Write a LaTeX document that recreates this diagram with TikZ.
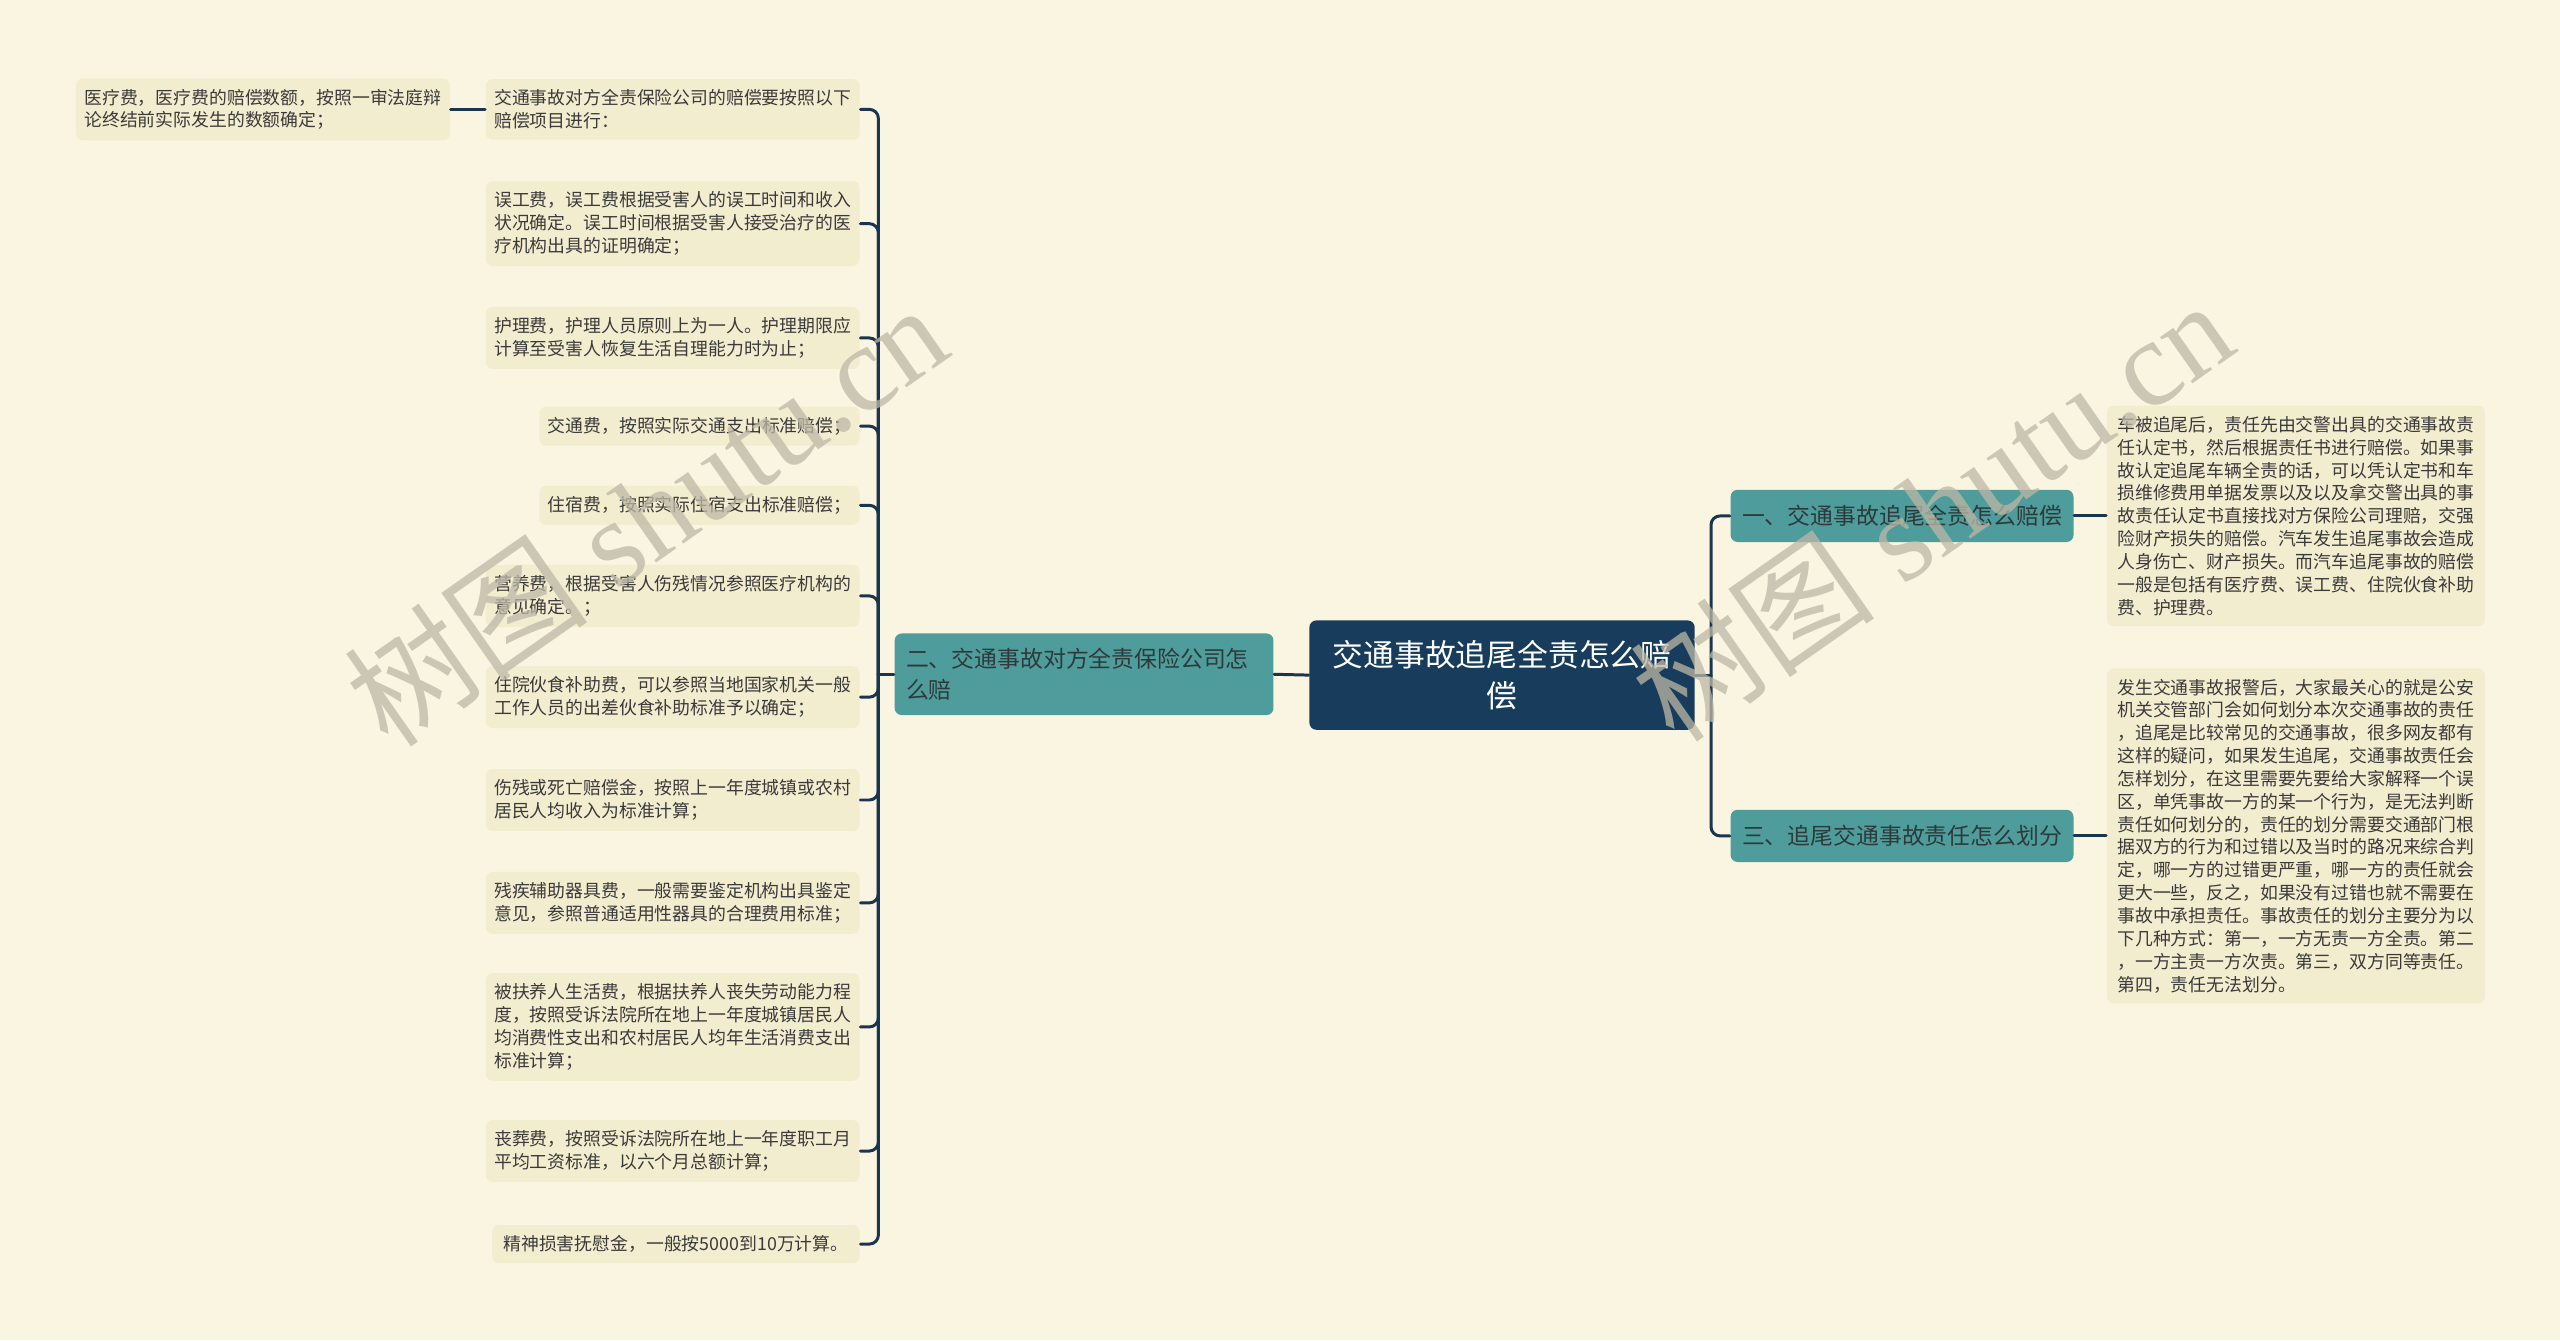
\documentclass[tikz,border=0pt]{standalone}
\usepackage{fontspec}
\newfontfamily\cjk{Noto Sans CJK SC}
\newfontfamily\wmserif{Liberation Serif}
\usetikzlibrary{calc}

\definecolor{paper}{HTML}{FAF5E0}
\definecolor{leaffill}{HTML}{F3EDD0}
\definecolor{leaftext}{HTML}{3A3A3A}
\definecolor{branchteal}{HTML}{4F9C9C}
\definecolor{branchtext}{HTML}{2E3A3A}
\definecolor{rootnavy}{HTML}{173C5C}
\definecolor{linknavy}{HTML}{1A3550}
\definecolor{wmgray}{HTML}{BDB8A6}

\begin{document}
\begin{tikzpicture}[x=0.016327cm,y=-0.016327cm,line cap=round,line join=round]
  \tikzset{
    rootbox/.style={fill=rootnavy,text=white,rounded corners=0.07cm,align=center,
      minimum width=3.853cm,minimum height=1.094cm,inner sep=0pt,
      font=\cjk\fontsize{8.76}{11.6}\selectfont},
    branchbox/.style={fill=branchteal,text=branchtext,rounded corners=0.07cm,
      minimum height=0.522cm,inner ysep=0pt,inner xsep=0.114cm,
      font=\cjk\fontsize{6.5}{8.8}\selectfont},
    leafbox/.style={fill=leaffill,text=leaftext,rounded corners=0.07cm,align=left,
      inner xsep=2.4pt,inner ysep=3pt,font=\cjk\fontsize{5.08}{6.5}\selectfont},
    link/.style={draw=linknavy,line width=0.85pt,rounded corners=0.09cm},
    watermark/.style={text=wmgray,opacity=0.75,font=\wmserif\fontsize{35}{35}\selectfont}
  }

  \fill[paper] (0,0) rectangle (1568,821);
  \useasboundingbox (0,0) rectangle (1568,821);

  % centre: the question itself
  \node[rootbox] (root) at (920,413.5) {交通事故追尾全责怎么赔\\偿};

  % right: two answers, each with one long text
  \node[branchbox,minimum width=3.429cm] (b1) at (1165,316) {一、交通事故追尾全责怎么赔偿};
  \node[branchbox,minimum width=3.429cm] (b3) at (1165,512) {三、追尾交通事故责任怎么划分};
  \node[leafbox,anchor=west,inner xsep=3pt] (r1) at (1290,316) {车被追尾后，责任先由交警出具的交通事故责\\任认定书，然后根据责任书进行赔偿。如果事\\故认定追尾车辆全责的话，可以凭认定书和车\\损维修费用单据发票以及以及拿交警出具的事\\故责任认定书直接找对方保险公司理赔，交强\\险财产损失的赔偿。汽车发生追尾事故会造成\\人身伤亡、财产损失。而汽车追尾事故的赔偿\\一般是包括有医疗费、误工费、住院伙食补助\\费、护理费。};
  \node[leafbox,anchor=west,inner xsep=3pt] (r3) at (1290,512) {发生交通事故报警后，大家最关心的就是公安\\机关交管部门会如何划分本次交通事故的责任\\，追尾是比较常见的交通事故，很多网友都有\\这样的疑问，如果发生追尾，交通事故责任会\\怎样划分，在这里需要先要给大家解释一个误\\区，单凭事故一方的某一个行为，是无法判断\\责任如何划分的，责任的划分需要交通部门根\\据双方的行为和过错以及当时的路况来综合判\\定，哪一方的过错更严重，哪一方的责任就会\\更大一些，反之，如果没有过错也就不需要在\\事故中承担责任。事故责任的划分主要分为以\\下几种方式：第一，一方无责一方全责。第二\\，一方主责一方次责。第三，双方同等责任。\\第四，责任无法划分。};

  \coordinate (j1) at (1048,413.5);
  \draw[link] (root.east) -- (j1);
  \foreach \n in {b1,b3}
    \draw[link] (j1) |- (\n.west);
  \draw[link] (b1.east) -- (r1.west);
  \draw[link] (b3.east) -- (r3.west);

  % left: the list of items the insurer pays
  \node[branchbox,align=left,text width=3.56cm,minimum height=0.816cm] (b2) at (664,413) {二、交通事故对方全责保险公司怎\\么赔};
  \draw[link] (root.west) -- (b2.east);

  \node[leafbox,anchor=east] (l1) at (527,67) {交通事故对方全责保险公司的赔偿要按照以下\\赔偿项目进行：};
  \node[leafbox,anchor=east] (l2) at (527,137) {误工费，误工费根据受害人的误工时间和收入\\状况确定。误工时间根据受害人接受治疗的医\\疗机构出具的证明确定；};
  \node[leafbox,anchor=east] (l3) at (527,207) {护理费，护理人员原则上为一人。护理期限应\\计算至受害人恢复生活自理能力时为止；};
  \node[leafbox,anchor=east] (l4) at (527,261) {交通费，按照实际交通支出标准赔偿；};
  \node[leafbox,anchor=east] (l5) at (527,309.5) {住宿费，按照实际住宿支出标准赔偿；};
  \node[leafbox,anchor=east] (l6) at (527,365) {营养费，根据受害人伤残情况参照医疗机构的\\意见确定。；};
  \node[leafbox,anchor=east] (l7) at (527,427) {住院伙食补助费，可以参照当地国家机关一般\\工作人员的出差伙食补助标准予以确定；};
  \node[leafbox,anchor=east] (l8) at (527,490) {伤残或死亡赔偿金，按照上一年度城镇或农村\\居民人均收入为标准计算；};
  \node[leafbox,anchor=east] (l9) at (527,553) {残疾辅助器具费，一般需要鉴定机构出具鉴定\\意见，参照普通适用性器具的合理费用标准；};
  \node[leafbox,anchor=east] (l10) at (527,629) {被扶养人生活费，根据扶养人丧失劳动能力程\\度，按照受诉法院所在地上一年度城镇居民人\\均消费性支出和农村居民人均年生活消费支出\\标准计算；};
  \node[leafbox,anchor=east] (l11) at (527,705) {丧葬费，按照受诉法院所在地上一年度职工月\\平均工资标准，以六个月总额计算；};
  \node[leafbox,anchor=east,inner xsep=3.2pt] (l12) at (527,762) {精神损害抚慰金，一般按5000到10万计算。};
  \node[leafbox,anchor=east] (m1) at (276,67) {医疗费，医疗费的赔偿数额，按照一审法庭辩\\论终结前实际发生的数额确定；};

  \coordinate (j2) at (538,413);
  \draw[link] (b2.west) -- (j2);
  \foreach \n in {l1,l2,l3,l4,l5,l6,l7,l8,l9,l10,l11,l12}
    \draw[link] (j2) |- (\n.east);
  \draw[link] (l1.west) -- (m1.east);

  % watermarks over everything
  \node[watermark,rotate=35] (wm1) at (395,315) {{\cjk 树图} shutu.cn};
  \node[watermark,rotate=35] (wm2) at (1183,312) {{\cjk 树图} shutu.cn};
\end{tikzpicture}
\end{document}
